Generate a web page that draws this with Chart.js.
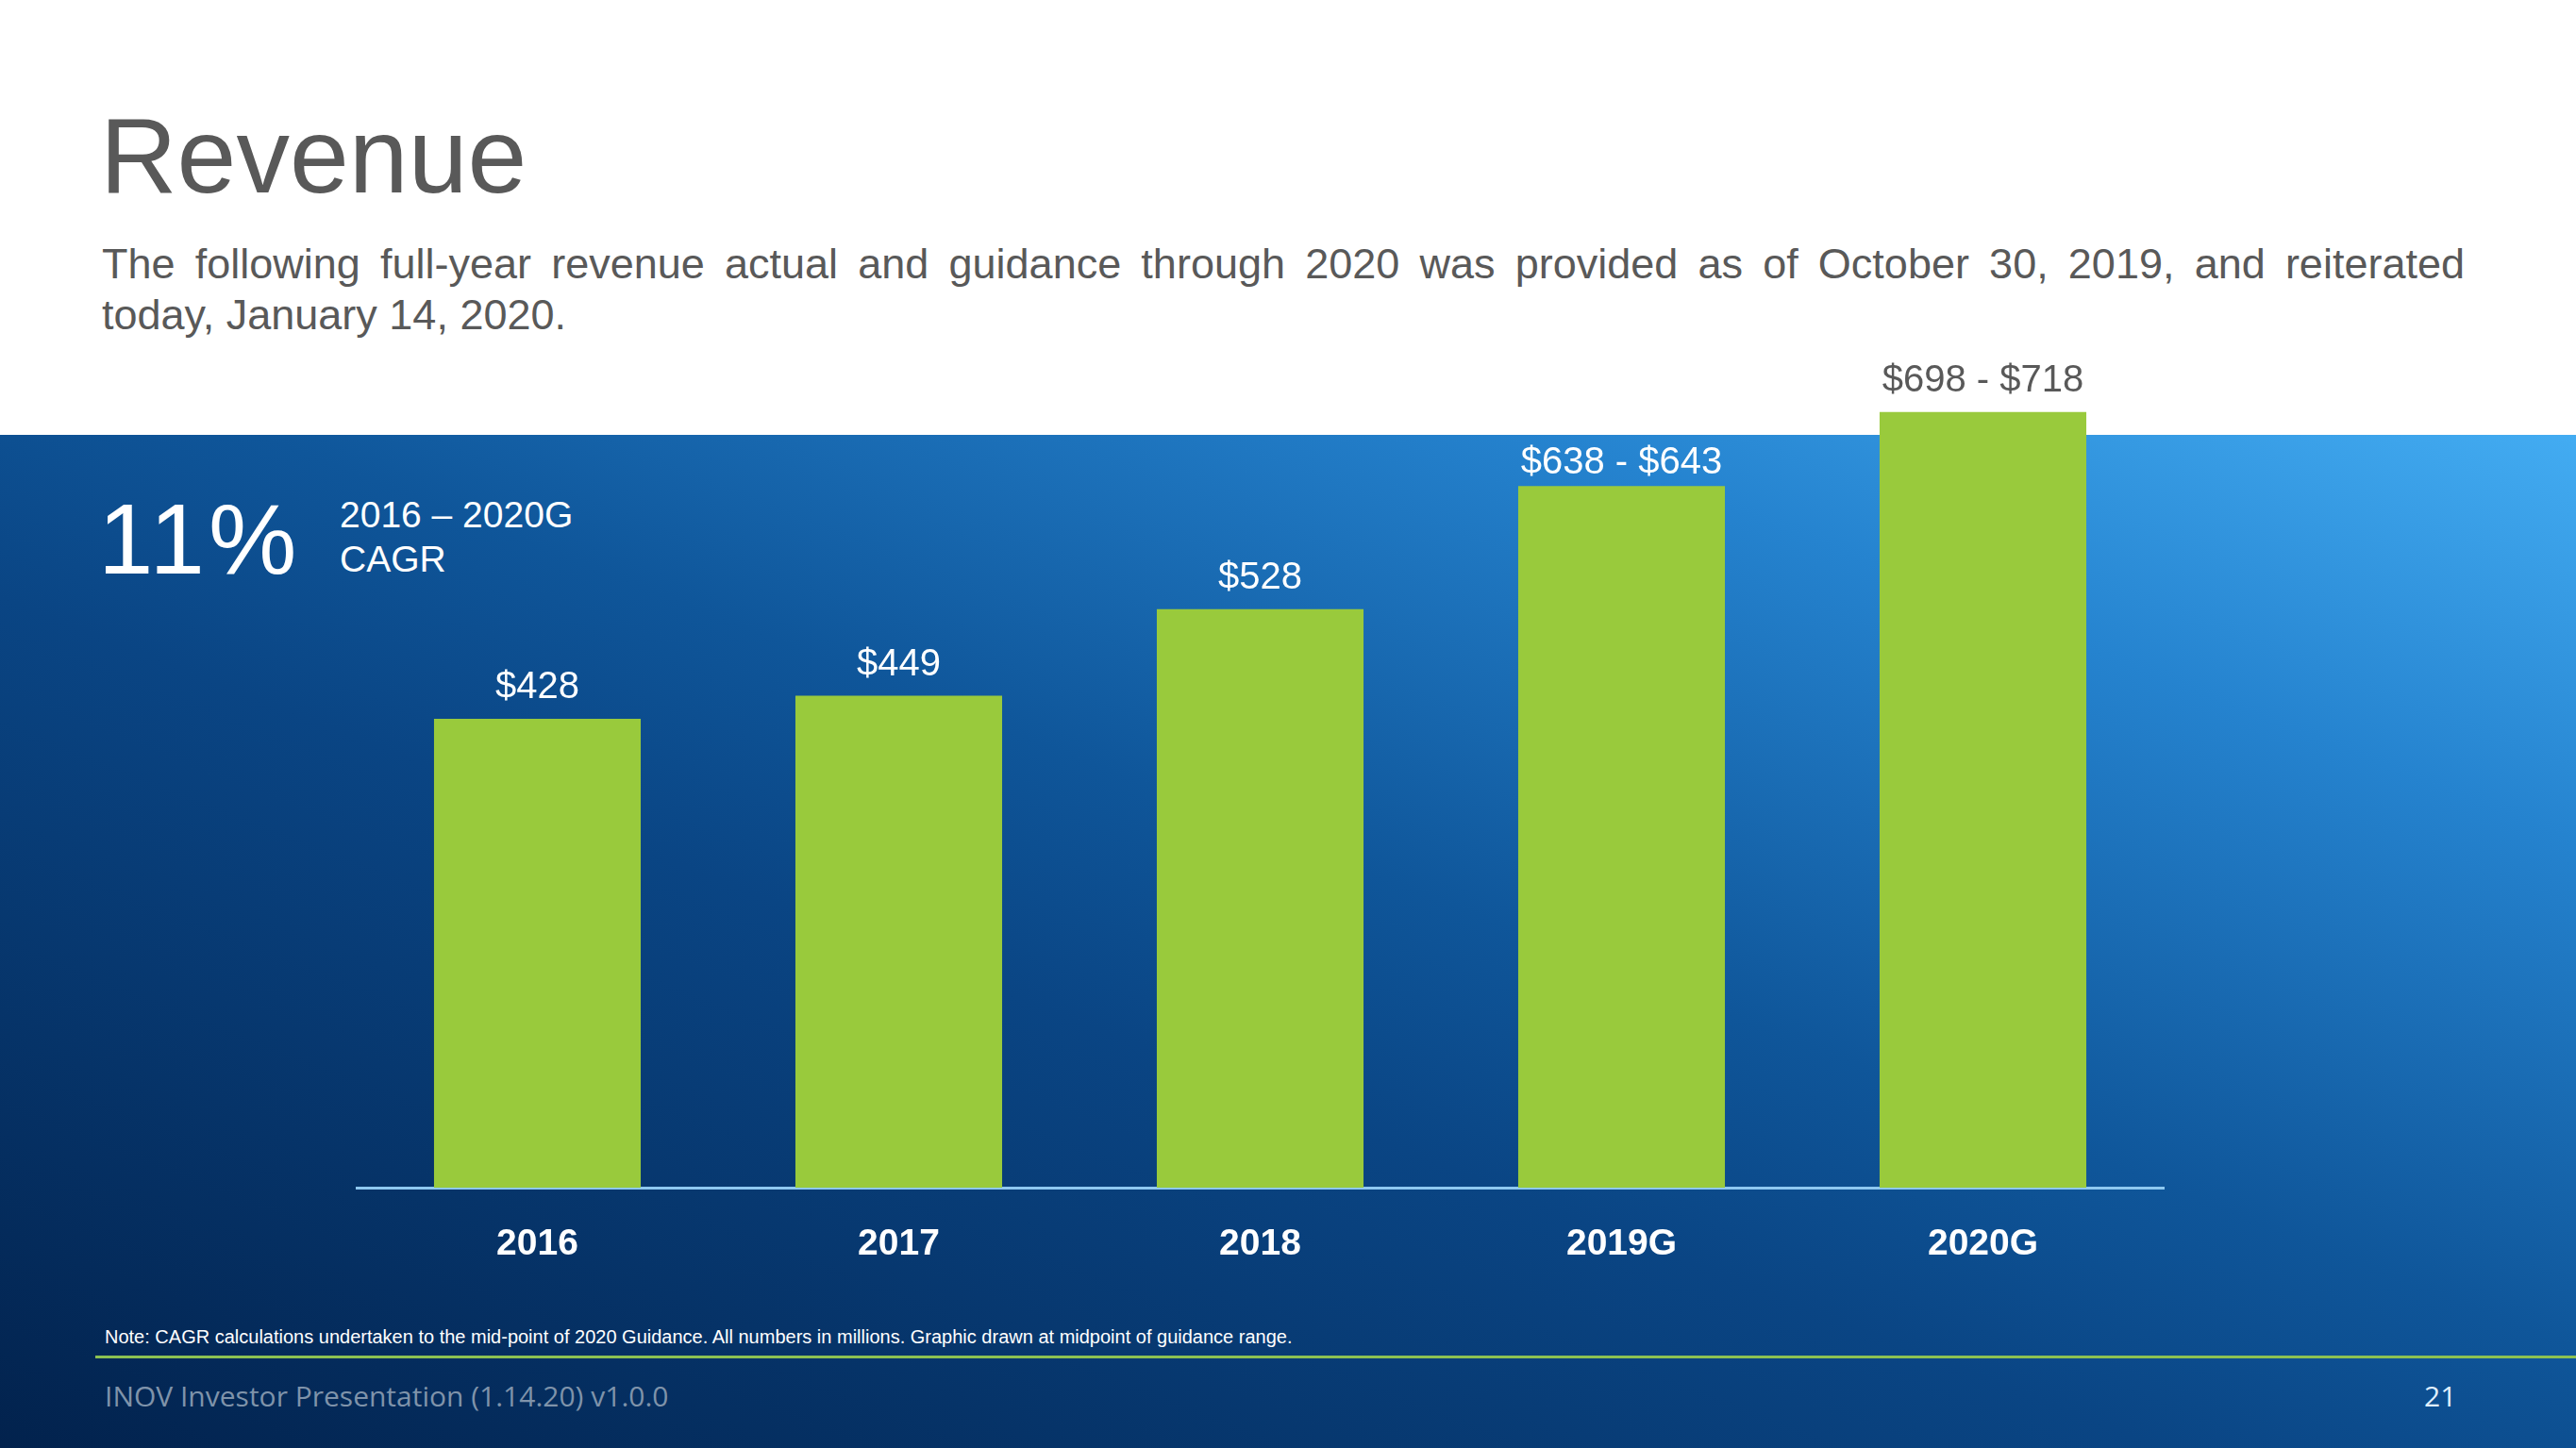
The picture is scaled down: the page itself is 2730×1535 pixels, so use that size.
<!DOCTYPE html>
<html>
<head>
<meta charset="utf-8">
<script src="https://cdn.jsdelivr.net/npm/chart.js@4/dist/chart.umd.min.js"></script>
<style>
  html, body { margin: 0; padding: 0; }
  body { width: 2730px; height: 1535px; position: relative; overflow: hidden; background: #fff;
         font-family: "Liberation Sans", Arial, sans-serif; }
  .band { position: absolute; left: 0; top: 461px; width: 2730px; height: 1074px;
          background: linear-gradient(to top right, #02224d 0%, #0a4584 42%, #0f569a 55%, #2583cf 80%, #43acf2 100%); }
  .abs { position: absolute; white-space: nowrap; }
  #title { left: 106px; top: 109px; font-size: 113px; line-height: 1; color: #595959; }
  #sub { left: 108px; top: 253px; width: 2504px; font-size: 45px; line-height: 54px; color: #595959; white-space: normal; }
  #sub .l1 { text-align: justify; text-align-last: justify; }
  #cagr { left: 104px; top: 519px; font-size: 105px; line-height: 1; color: #fff; letter-spacing: 4px; }
  #cagrTxt { left: 360px; top: 522px; font-size: 39px; line-height: 47px; color: #fff; }
  #note { left: 111px; top: 1407px; font-size: 20px; line-height: 1; color: #fff; }
  .rule { position: absolute; left: 101px; right: 0; top: 1437px; height: 3px; background: #8cc152; }
  #foot { left: 111px; top: 1465px; font-family: "Open Sans", sans-serif; font-size: 30px; line-height: 1; color: #7f93aa; }
  #page { left: 2569px; top: 1465px; font-family: "Open Sans", sans-serif; font-size: 30px; line-height: 1; color: #e0f0ff; }
  canvas { position: absolute; left: 0; top: 0; }
</style>
</head>
<body>
<div class="band"></div>
<div class="abs" id="title">Revenue</div>
<div class="abs" id="sub">
  <div class="l1">The following full-year revenue actual and guidance through 2020 was provided as of October 30, 2019, and reiterated</div>
  <div>today, January 14, 2020.</div>
</div>
<div class="abs" id="cagr">11%</div>
<div class="abs" id="cagrTxt">2016 – 2020G<br>CAGR</div>
<div class="abs" id="note">Note: CAGR calculations undertaken to the mid-point of 2020 Guidance. All numbers in millions. Graphic drawn at midpoint of guidance range.</div>
<div class="rule"></div>
<div class="abs" id="foot">INOV Investor Presentation (1.14.20) v1.0.0</div>
<div class="abs" id="page">21</div>
<canvas id="revenueChart" width="2730" height="1535"></canvas>

<script>
// revenue in $ millions; guidance years drawn at midpoint of range
const years = ['2016', '2017', '2018', '2019G', '2020G'];
const revenue = [428, 449, 528, 640.5, 708];
const valueLabels = ['$428', '$449', '$528', '$638 - $643', '$698 - $718'];

const bandTop = 461;

const barLabels = {
    id: 'barLabels',
    afterDatasetsDraw(chart) {
        const ctx = chart.ctx;
        const bars = chart.getDatasetMeta(0).data;
        ctx.save();
        ctx.font = '40px "Liberation Sans", Arial, sans-serif';
        ctx.textAlign = 'center';
        ctx.textBaseline = 'alphabetic';
        bars.forEach((bar, i) => {
            // labels that would poke out of the blue band are tucked in closer
            let y = bar.y - 22;
            if (y - 35 < bandTop && y > bandTop) y = bar.y - 13;
            ctx.fillStyle = y < bandTop ? '#595959' : '#ffffff';
            ctx.fillText(valueLabels[i], bar.x, y);
        });
        ctx.restore();
    }
};

const ctx = document.getElementById('revenueChart').getContext('2d');

new Chart(ctx, {
    type: 'bar',
    data: {
        labels: years,
        datasets: [{
            label: 'Revenue',
            data: revenue,
            backgroundColor: '#99ca3c',
            borderWidth: 0,
            barPercentage: 0.572,
            categoryPercentage: 1
        }]
    },
    options: {
        responsive: false,
        animation: false,
        devicePixelRatio: 1,
        layout: {
            padding: { left: 378, right: 437, top: 330, bottom: 193 }
        },
        plugins: {
            legend: { display: false },
            tooltip: { enabled: false }
        },
        scales: {
            x: {
                z: 1,
                grid: { display: false, drawTicks: false },
                border: { display: true, color: '#8ec8f0', width: 3 },
                ticks: {
                    color: '#ffffff',
                    padding: 37,
                    font: { family: '"Liberation Sans", Arial, sans-serif', size: 39, weight: 'bold' }
                },
                afterFit(scale) { scale.height = 83; }
            },
            y: {
                display: false,
                min: 0,
                max: 800
            }
        }
    },
    plugins: [barLabels]
});
</script>
</body>
</html>
